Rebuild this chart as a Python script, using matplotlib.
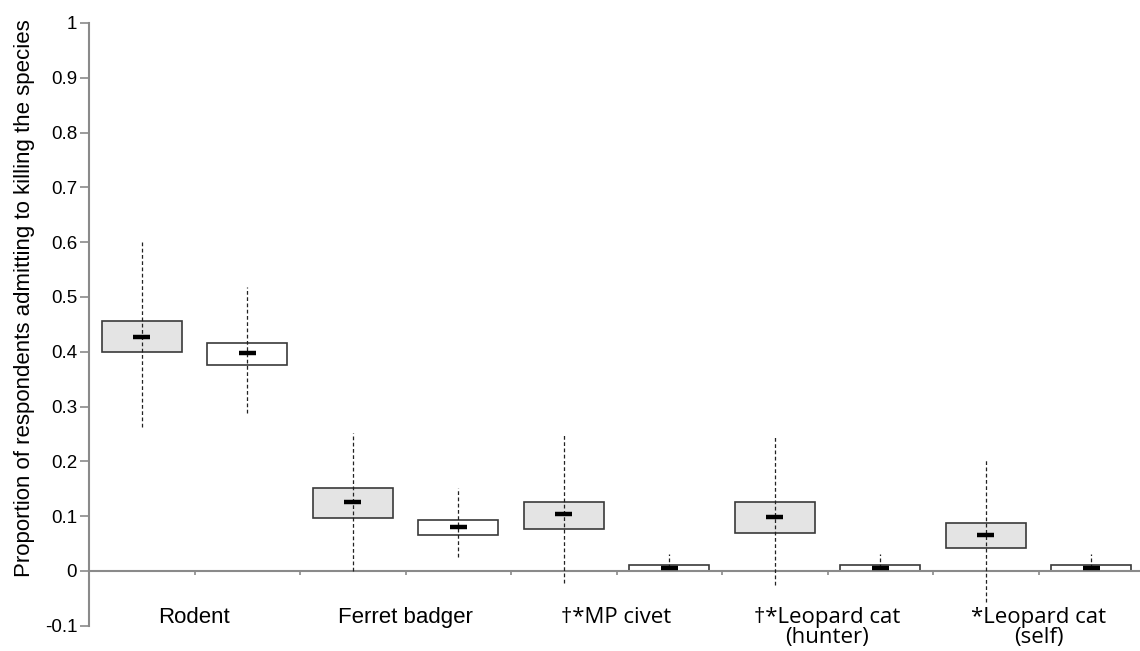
import numpy as np
import matplotlib
matplotlib.use("Agg")
import matplotlib.pyplot as plt

plt.rcParams['axes.unicode_minus'] = False

# Data: two boxes per species (grey = first method, white = second method)
categories = ['Rodent', 'Ferret badger', '\u2020*MP civet',
              '\u2020*Leopard cat\n(hunter)', '*Leopard cat\n(self)']
q1 = [0.399, 0.376, 0.097, 0.066, 0.076, 0.000, 0.070, 0.000, 0.042, 0.000]
q3 = [0.456, 0.416, 0.152, 0.092, 0.125, 0.010, 0.125, 0.010, 0.087, 0.010]
med = [0.427, 0.398, 0.125, 0.081, 0.103, 0.005, 0.098, 0.005, 0.065, 0.005]
whis_lo = [0.262, 0.288, 0.000, 0.025, -0.022, 0.005, -0.025, 0.005, -0.056, 0.005]
whis_hi = [0.603, 0.518, 0.252, 0.151, 0.252, 0.031, 0.248, 0.031, 0.202, 0.031]
fills = ['#e4e4e4', 'white'] * 5

yticks = [-0.1, 0, 0.1, 0.2, 0.3, 0.4, 0.5, 0.6, 0.7, 0.8, 0.9, 1]
ytick_labels = ['-0.1', '0', '0.1', '0.2', '0.3', '0.4', '0.5', '0.6', '0.7', '0.8', '0.9', '1']

W, H = 1140, 651
fig = plt.figure(figsize=(W / 100, H / 100), dpi=100)
ax = fig.add_axes([89 / W, (H - 625.7) / H, (1144 - 89) / W, (625.7 - 22.9) / H])

x = np.arange(1, len(q1) + 1)
q1 = np.array(q1)
q3 = np.array(q3)

ax.bar(x, q3 - q1, bottom=q1, width=0.76, color=fills, edgecolor='#3a3a3a',
       linewidth=1.2, zorder=2)
ax.vlines(x, whis_lo, whis_hi, colors='#222222', linewidth=0.9,
          linestyles=(0, (3, 2)), zorder=3)
ax.hlines(med, x - 0.08, x + 0.08, colors='black', linewidth=3.2, zorder=4)

ax.set_xlim(0.5, 10.5)
ax.set_ylim(-0.1, 1.0)

for s in ['top', 'right']:
    ax.spines[s].set_visible(False)
ax.spines['bottom'].set_position(('data', 0))
for s in ['left', 'bottom']:
    ax.spines[s].set_color('#8a8a8a')
    ax.spines[s].set_linewidth(1.5)

ax.set_yticks(yticks)
ax.set_yticklabels(ytick_labels, fontsize=13.5, family='Liberation Sans')
ax.tick_params(axis='y', length=6.5, width=1.2, color='#8a8a8a', pad=2)
ax.set_xticks(np.arange(1.5, 10.5, 1.0))
ax.set_xticklabels([])
ax.tick_params(axis='x', length=3, width=1.2, color='#8a8a8a', direction='out')

# category labels under each pair (first two in an Arial-like face, the rest Segoe-like)
for i, lab in enumerate(categories):
    xc = 1.5 + 2 * i
    lines = lab.split('\n')
    if i < 2:
        fam, fs = ['Liberation Sans', 'DejaVu Sans'], 16
    else:
        fam, fs = ['Open Sans', 'DejaVu Sans'], 16
    ax.text(xc, -0.0945, lines[0], ha='center', va='baseline', fontsize=fs,
            family=fam, clip_on=False)
    if len(lines) > 1:
        ax.text(xc, -0.1315, lines[1], ha='center', va='baseline', fontsize=fs,
                family=fam, clip_on=False)

fig.text(25 / W, 1 - 298 / H, 'Proportion of respondents admitting to killing the species',
         rotation=90, ha='center', va='center', fontsize=16, family='Liberation Sans')

fig.savefig('out.png', dpi=100)
